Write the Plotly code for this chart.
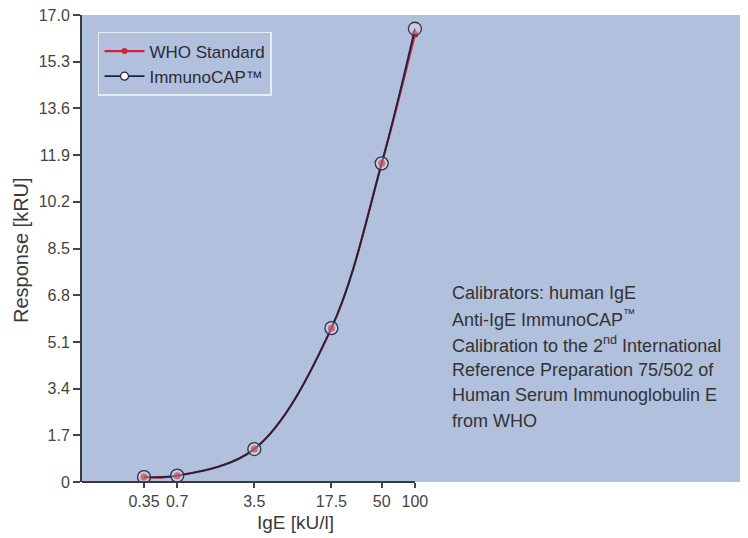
import plotly.graph_objects as go

conc = [0.35, 0.7, 3.5, 17.5, 50, 100]
who_resp = [0.18, 0.23, 1.2, 5.6, 11.6, 16.3]
cap_resp = [0.18, 0.23, 1.2, 5.6, 11.6, 16.5]
x_ticks = [0.35, 0.7, 3.5, 17.5, 50, 100]
x_ticktext = ["0.35", "0.7", "3.5", "17.5", "50", "100"]
y_ticks = [0, 1.7, 3.4, 5.1, 6.8, 8.5, 10.2, 11.9, 13.6, 15.3, 17.0]
y_ticktext = ["0", "1.7", "3.4", "5.1", "6.8", "8.5", "10.2", "11.9", "13.6", "15.3", "17.0"]
note_lines = [
    "Calibrators: human IgE",
    "Anti-IgE ImmunoCAP<sup>™</sup>",
    "Calibration to the 2<sup>nd</sup> International",
    "Reference Preparation 75/502 of",
    "Human Serum Immunoglobulin E",
    "from WHO",
]

FONT = "Liberation Sans, Arial, sans-serif"
BG = "#b1c0dd"
W, H = 740, 530          # page body has an 8px margin
ML, MT, MB = 74, 7, 56
PW, PH = W - ML, H - MT - MB

fig = go.Figure()
fig.add_trace(go.Scatter(
    x=conc, y=who_resp, name="WHO Standard", mode="lines+markers", showlegend=False,
    line=dict(color="#d0223f", width=2.2, shape="spline"),
    marker=dict(color="#d0223f", size=7, symbol="circle"),
))
fig.add_trace(go.Scatter(
    x=conc, y=cap_resp, name="ImmunoCAP™", mode="lines+markers", showlegend=False,
    line=dict(color="#1c2540", width=1.8, shape="spline"),
    marker=dict(color="rgba(255,220,230,0.35)", size=13, symbol="circle",
                line=dict(color="#2a3550", width=1.3)),
))
# legend entries
fig.add_trace(go.Scatter(
    x=[None], y=[None], name="WHO Standard", mode="lines+markers",
    line=dict(color="#d0223f", width=2.2), marker=dict(color="#d0223f", size=6),
))
fig.add_trace(go.Scatter(
    x=[None], y=[None], name="ImmunoCAP™", mode="lines+markers",
    line=dict(color="#1c2540", width=1.6),
    marker=dict(color="white", size=8, line=dict(color="#1c2540", width=1.2)),
))

fig.update_layout(
    width=W, height=H,
    margin=dict(l=ML, r=0, t=MT, b=MB, autoexpand=False),
    paper_bgcolor="white", plot_bgcolor=BG,
    font=dict(family=FONT, size=15, color="#3a3a3a"),
    showlegend=True,
    legend=dict(x=0.024, y=0.9636, xanchor="left", yanchor="top",
                bgcolor=BG, bordercolor="#e6ebf5", borderwidth=1.5,
                font=dict(family=FONT, size=17, color="#2b2b3a"),
                tracegroupgap=0, itemwidth=40),
    xaxis=dict(type="log", range=[-1.018, 5.02], tickvals=x_ticks, ticktext=x_ticktext,
               showgrid=False, zeroline=False, showline=False, automargin=False,
               ticks="outside", ticklen=5, tickcolor="#444", tickwidth=1.5,
               ticklabeloverflow="allow",
               tickfont=dict(family=FONT, size=16, color="#444")),
    yaxis=dict(range=[0, 17], tickvals=y_ticks, ticktext=y_ticktext, automargin=False,
               showgrid=False, zeroline=False, showline=True, linecolor="#3a3a3a", linewidth=2,
               ticks="outside", ticklen=7, tickcolor="#444", tickwidth=1.5,
               ticklabeloverflow="allow",
               tickfont=dict(family=FONT, size=16, color="#444")),
)

# x axis line only spanning the data range
fig.add_shape(type="line", xref="paper", yref="paper", x0=0, x1=(407 - ML) / PW, y0=0, y1=0,
              line=dict(color="#3a3a3a", width=2))

def px(xw):
    return (xw - 8 - ML) / PW

def py(yw):
    return (MT + PH - (yw - 8)) / PH

fig.add_annotation(text="IgE [kU/l]", xref="paper", yref="paper", x=px(295), y=py(522),
                   showarrow=False, xanchor="center", yanchor="middle",
                   font=dict(family=FONT, size=19, color="#3a3a3a"))
fig.add_annotation(text="Response [kRU]", xref="paper", yref="paper", x=px(21), y=py(250),
                   showarrow=False, xanchor="center", yanchor="middle", textangle=-90,
                   font=dict(family=FONT, size=20, color="#3a3a3a"))

for i, line in enumerate(note_lines):
    fig.add_annotation(text=line, xref="paper", yref="paper", x=px(450), y=py(293 + i * 25.5),
                       showarrow=False, xanchor="left", yanchor="middle", align="left",
                       font=dict(family=FONT, size=18, color="#333333"))

fig.write_html("out.html")
